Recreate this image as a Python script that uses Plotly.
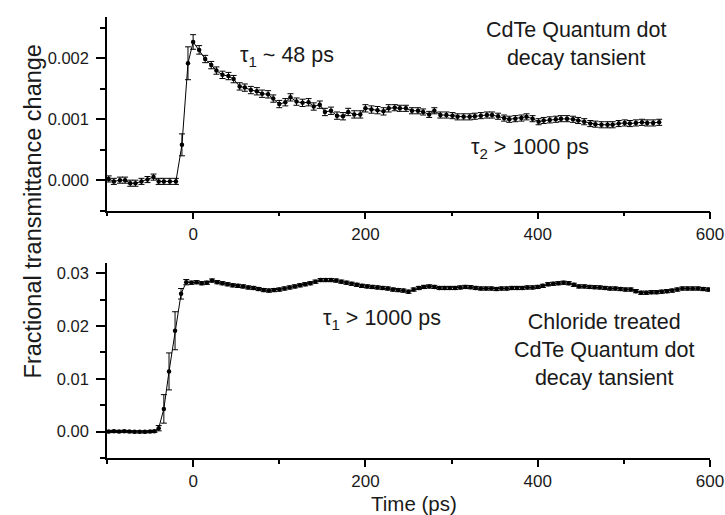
import plotly.graph_objects as go

# ---------------- data (values in units of 1e-3) ----------------
top_time = [-98, -92, -85, -79, -73, -67, -60, -53, -46, -40,
            -34, -27, -20, -13, -6, 0, 7, 14, 21, 27,
            34, 41, 47, 54, 60, 67, 74, 80, 87, 93,
            100, 107, 113, 120, 127, 134, 140, 147, 153, 160,
            167, 174, 180, 187, 194, 200, 207, 214, 221, 227,
            234, 240, 247, 254, 261, 267, 274, 280, 287, 294,
            301, 307, 314, 321, 327, 334, 341, 347, 354, 361,
            367, 374, 381, 387, 394, 401, 407, 414, 421, 427,
            434, 441, 447, 454, 461, 467, 474, 481, 487, 494,
            501, 507, 514, 521, 527, 534, 541]
top_signal_milli = [0.02, -0.02, 0.00, 0.00, -0.05, -0.05, -0.02, 0.01, 0.05, -0.02,
                    -0.02, -0.02, -0.02, 0.58, 1.92, 2.27, 2.14, 1.99, 1.89, 1.80,
                    1.73, 1.71, 1.66, 1.54, 1.52, 1.48, 1.46, 1.42, 1.41, 1.34,
                    1.25, 1.28, 1.36, 1.29, 1.27, 1.28, 1.21, 1.24, 1.12, 1.14,
                    1.06, 1.05, 1.12, 1.08, 1.08, 1.18, 1.16, 1.15, 1.13, 1.18,
                    1.19, 1.18, 1.18, 1.14, 1.14, 1.12, 1.08, 1.14, 1.07, 1.07,
                    1.06, 1.04, 1.04, 1.04, 1.05, 1.06, 1.07, 1.07, 1.05, 1.02,
                    1.00, 1.01, 1.02, 1.04, 1.01, 0.96, 0.98, 0.99, 1.00, 1.01,
                    1.01, 1.00, 0.98, 0.96, 0.93, 0.92, 0.91, 0.91, 0.91, 0.93,
                    0.94, 0.93, 0.94, 0.95, 0.94, 0.94, 0.95]
top_error_milli = [0.05, 0.05, 0.05, 0.05, 0.05, 0.05, 0.05, 0.05, 0.05, 0.05,
                   0.05, 0.05, 0.05, 0.18, 0.27, 0.12, 0.07, 0.06, 0.06, 0.06,
                   0.06, 0.06, 0.06, 0.06, 0.06, 0.06, 0.06, 0.06, 0.06, 0.06,
                   0.06, 0.06, 0.06, 0.06, 0.06, 0.06, 0.06, 0.06, 0.06, 0.06,
                   0.06, 0.06, 0.06, 0.06, 0.06, 0.06, 0.06, 0.06, 0.06, 0.06,
                   0.05, 0.05, 0.05, 0.05, 0.05, 0.05, 0.05, 0.05, 0.05, 0.05,
                   0.05, 0.05, 0.05, 0.05, 0.05, 0.05, 0.05, 0.05, 0.05, 0.05,
                   0.05, 0.05, 0.05, 0.05, 0.05, 0.05, 0.05, 0.05, 0.05, 0.05,
                   0.05, 0.05, 0.05, 0.05, 0.05, 0.05, 0.05, 0.05, 0.05, 0.05,
                   0.05, 0.05, 0.05, 0.05, 0.05, 0.05, 0.05]

bot_time = [-98, -92, -86, -80, -74, -68, -62, -56, -50, -45,
            -40, -34, -28, -21, -14, -8, -2, 4, 10, 16,
            22, 28, 34, 40, 46, 52, 58, 64, 70, 76,
            82, 88, 94, 100, 106, 112, 118, 124, 130, 136,
            142, 148, 154, 160, 166, 172, 178, 184, 190, 196,
            202, 208, 214, 220, 226, 232, 238, 244, 250, 256,
            262, 268, 274, 280, 286, 292, 298, 304, 310, 316,
            322, 328, 334, 340, 346, 352, 358, 364, 370, 376,
            382, 388, 394, 400, 406, 412, 418, 424, 430, 436,
            442, 448, 454, 460, 466, 472, 478, 484, 490, 496,
            502, 508, 514, 520, 526, 532, 538, 544, 550, 556,
            562, 568, 574, 580, 586, 592, 598]
bot_signal_milli = [0.0, 0.05, 0.0, 0.05, 0.0, -0.05, -0.05, -0.05, 0.0, 0.05,
                    0.64, 4.3, 11.4, 19.1, 26.1, 28.3, 28.2, 28.3, 28.1, 28.2,
                    28.6, 28.3, 28.1, 27.9, 27.7, 27.6, 27.5, 27.3, 27.2, 27.0,
                    26.8, 26.7, 26.8, 26.9, 27.1, 27.3, 27.5, 27.7, 27.9, 28.1,
                    28.4, 28.7, 28.7, 28.7, 28.6, 28.4, 28.2, 28.0, 27.8, 27.6,
                    27.5, 27.4, 27.3, 27.2, 27.1, 26.9, 26.8, 26.7, 26.5, 26.9,
                    27.2, 27.4, 27.5, 27.4, 27.2, 27.2, 27.2, 27.2, 27.3, 27.4,
                    27.35, 27.2, 27.1, 27.1, 27.1, 27.0, 27.1, 27.1, 27.2, 27.2,
                    27.2, 27.3, 27.3, 27.4, 27.6, 27.9, 28.0, 28.1, 28.2, 28.1,
                    27.8, 27.5, 27.5, 27.4, 27.35, 27.3, 27.2, 27.1, 27.1, 27.0,
                    26.9, 26.9, 26.6, 26.3, 26.3, 26.4, 26.4, 26.5, 26.6, 26.7,
                    26.9, 27.1, 27.1, 27.1, 27.1, 27.0, 26.9]
bot_error_milli = [0.2, 0.2, 0.2, 0.2, 0.2, 0.2, 0.2, 0.2, 0.2, 0.2,
                   0.5, 2.7, 3.5, 3.6, 1.0, 0.5, 0.3, 0.3, 0.3, 0.3,
                   0.3, 0.3, 0.3, 0.3, 0.3, 0.3, 0.3, 0.3, 0.3, 0.3,
                   0.3, 0.3, 0.3, 0.3, 0.3, 0.3, 0.3, 0.3, 0.3, 0.3,
                   0.3, 0.3, 0.3, 0.3, 0.3, 0.3, 0.3, 0.3, 0.3, 0.3,
                   0.3, 0.3, 0.3, 0.3, 0.3, 0.3, 0.3, 0.3, 0.3, 0.3,
                   0.3, 0.3, 0.3, 0.3, 0.3, 0.3, 0.3, 0.3, 0.3, 0.3,
                   0.3, 0.3, 0.3, 0.3, 0.3, 0.3, 0.3, 0.3, 0.3, 0.3,
                   0.3, 0.3, 0.3, 0.3, 0.3, 0.3, 0.3, 0.3, 0.3, 0.3,
                   0.3, 0.3, 0.3, 0.3, 0.3, 0.3, 0.3, 0.3, 0.3, 0.3,
                   0.3, 0.3, 0.3, 0.3, 0.3, 0.3, 0.3, 0.3, 0.3, 0.3,
                   0.3, 0.3, 0.3, 0.3, 0.3, 0.3, 0.3]

x_label = "Time (ps)"
y_label = "Fractional transmittance change"

# ---------------- figure ----------------
FONT = "Liberation Sans"
INK = "#1a1a1a"

def milli(v):
    return [a * 1e-3 for a in v]

fig = go.Figure()
fig.add_trace(go.Scatter(
    x=top_time, y=milli(top_signal_milli), xaxis="x", yaxis="y",
    mode="lines+markers",
    line=dict(color="black", width=1),
    marker=dict(color="black", size=4.5),
    error_y=dict(type="data", array=milli(top_error_milli), color="black",
                 thickness=1, width=3),
    showlegend=False))
fig.add_trace(go.Scatter(
    x=bot_time, y=milli(bot_signal_milli), xaxis="x2", yaxis="y2",
    mode="lines+markers",
    line=dict(color="black", width=1),
    marker=dict(color="black", size=4.5),
    error_y=dict(type="data", array=milli(bot_error_milli), color="black",
                 thickness=1, width=3),
    showlegend=False))

axis_common = dict(showline=True, linecolor="black", linewidth=1.5,
                   showgrid=False, zeroline=False, ticks="outside",
                   ticklen=7, tickwidth=1.5, tickcolor="black",
                   automargin=False,
                   tickfont=dict(family=FONT, size=17, color=INK))
minor_x = dict(ticks="outside", ticklen=4, tickwidth=1.5, tickcolor="black",
               dtick=100, tick0=0, showgrid=False)
y_common = dict(axis_common, ticklen=9, ticklabelstandoff=4,
                tickfont=dict(family=FONT, size=16.5, color=INK))

fig.update_layout(
    width=725, height=515,
    margin=dict(l=107, r=15, t=17, b=57, autoexpand=False),
    paper_bgcolor="white", plot_bgcolor="white",
    font=dict(family=FONT, color=INK),
    xaxis=dict(axis_common, domain=[0, 1], anchor="y", range=[-100, 600],
               tickmode="linear", tick0=0, dtick=200, minor=minor_x),
    yaxis=dict(y_common, domain=[0.561, 1], anchor="x",
               range=[-0.0005, 0.00268], tickmode="linear", tick0=0,
               dtick=0.001, tickformat=".3f",
               minor=dict(ticks="outside", ticklen=5, tickwidth=1.5,
                          tickcolor="black", dtick=0.0005, tick0=0)),
    xaxis2=dict(axis_common, domain=[0, 1], anchor="y2", range=[-100, 600],
                tickmode="linear", tick0=0, dtick=200, minor=minor_x),
    yaxis2=dict(y_common, domain=[0, 0.443], anchor="x2",
                range=[-0.005, 0.032], tickmode="linear", tick0=0,
                dtick=0.01, tickformat=".2f",
                minor=dict(ticks="outside", ticklen=5, tickwidth=1.5,
                           tickcolor="black", dtick=0.005, tick0=0)),
)

ann_font = dict(family=FONT, size=21.5, color=INK)
# axis titles
fig.add_annotation(xref="paper", yref="paper", x=-0.1235, y=0.558,
                   text=y_label, textangle=-90, showarrow=False,
                   font=dict(family=FONT, size=23.5, color=INK),
                   xanchor="center", yanchor="middle")
fig.add_annotation(xref="x2", yref="paper", x=256, y=0, yshift=-45,
                   text=x_label, showarrow=False,
                   font=dict(family=FONT, size=20.5, color=INK),
                   xanchor="center", yanchor="middle")
# panel texts
fig.add_annotation(xref="x", yref="y", x=444.7, y=0.00224,
                   text="CdTe Quantum dot<br>decay tansient", showarrow=False,
                   font=ann_font, xanchor="center", yanchor="middle")
fig.add_annotation(xref="x", yref="y", x=108.5, y=0.00203,
                   text="τ<sub>1</sub> ~ 48 ps", showarrow=False,
                   font=ann_font, xanchor="center", yanchor="middle")
fig.add_annotation(xref="x", yref="y", x=390.8, y=0.00052,
                   text="τ<sub>2</sub> > 1000 ps", showarrow=False,
                   font=ann_font, xanchor="center", yanchor="middle")
fig.add_annotation(xref="x2", yref="y2", x=219.4, y=0.0213,
                   text="τ<sub>1</sub> > 1000 ps", showarrow=False,
                   font=ann_font, xanchor="center", yanchor="middle")
fig.add_annotation(xref="x2", yref="y2", x=476.6, y=0.01547,
                   text="Chloride treated<br>CdTe Quantum dot<br>decay tansient",
                   showarrow=False, font=ann_font, xanchor="center",
                   yanchor="middle")

fig.write_html("out.html",
               config={"displayModeBar": False},
               post_script="document.body.style.margin='0px';"
                           "document.body.style.overflow='hidden';")
